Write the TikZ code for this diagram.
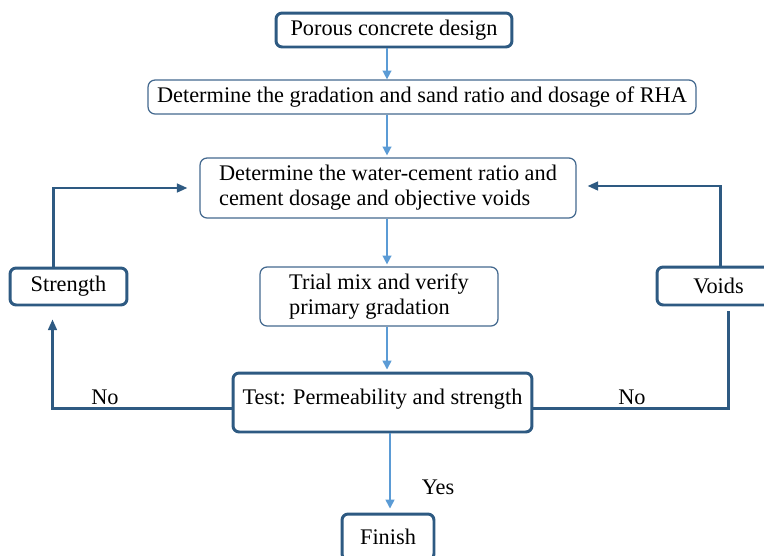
\documentclass[tikz,border=0pt]{standalone}
\usepackage{fontspec}
\setmainfont{Liberation Serif}
\usetikzlibrary{calc}
\usetikzlibrary{arrows.meta}

\definecolor{boxblue}{HTML}{2E5A82}
\definecolor{thinblue}{HTML}{44698F}
\definecolor{arrowblue}{HTML}{5B9BD5}

\tikzset{
    thickbox/.style={draw=boxblue, line width=1.7pt, rounded corners=3.5pt, fill=white,
        font=\fontsize{12.7}{14.2}\selectfont, inner sep=2pt},
    thinbox/.style={draw=thinblue, line width=0.7pt, rounded corners=4pt, fill=white,
        font=\fontsize{12.7}{14.2}\selectfont, inner sep=2pt, align=left},
    flowarrow/.style={draw=arrowblue, line width=0.85pt, -{Triangle[length=5pt,width=5pt]}},
    looparrow/.style={draw=boxblue, line width=1.2pt, -{Triangle[length=6pt,width=5pt]}},
    loopline/.style={draw=boxblue, line width=1.2pt},
    answer/.style={font=\fontsize{12.7}{14.2}\selectfont}
}

\begin{document}
\begin{tikzpicture}[x=0.02cm, y=-0.02cm]
    \useasboundingbox (0,0) rectangle (764,555);

    % main column
    \node[thickbox, minimum width=4.72cm, minimum height=0.68cm] (porous) at (394,30) {Porous concrete design};
    \node[thinbox, minimum width=10.96cm, minimum height=0.68cm, align=center] (gradation) at (422,97)
        {Determine the gradation and sand ratio and dosage of RHA};
    \node[thinbox, minimum width=7.52cm, minimum height=1.2cm] (wcratio) at (388,188)
        {Determine the water-cement ratio and\\cement dosage and objective voids};
    \node[thinbox, minimum width=4.76cm, minimum height=1.18cm] (trialmix) at (379,296.5)
        {Trial mix and verify\\primary gradation};
    \node[thickbox, minimum width=5.98cm, minimum height=1.18cm, text depth=6pt] (test) at (382.5,402.5)
        {Test: Permeability and strength};
    \node[thickbox, minimum width=1.84cm, minimum height=0.92cm] (finish) at (388,537) {Finish};

    % side boxes
    \node[thickbox, minimum width=2.34cm, minimum height=0.74cm] (strength) at (68.5,286.5) {Strength\hspace{10pt}};
    \node[thickbox, minimum width=2.46cm, minimum height=0.76cm] (voids) at (718.5,286) {Voids};

    % answers
    \node[answer] (noleft) at (105,397) {No};
    \node[answer] (noright) at (632,397) {No};
    \node[answer] (yes) at (438,487) {Yes};

    % downward flow
    \coordinate (axis) at (387,0);
    \draw[flowarrow] (porous.south -| axis) -- (gradation.north -| axis);
    \draw[flowarrow] (gradation.south -| axis) -- ($(wcratio.north -| axis)+(0,-2)$);
    \draw[flowarrow] (wcratio.south -| axis) -- ($(trialmix.north -| axis)+(0,-2)$);
    \draw[flowarrow] (trialmix.south -| axis) -- ($(test.north -| axis)+(0,-2)$);
    \draw[flowarrow] ($(test.south -| axis)+(3,0)$) -- ($(finish.north -| axis)+(3,-4)$);

    % strength loop
    \draw[looparrow] ($(test.west)+(0,6)$) -| ($(strength.south)+(-16,13)$);
    \draw[looparrow] ($(strength.north)+(-15,0)$) |- ($(wcratio.west)+(-12,0)$);

    % voids loop
    \draw[loopline] ($(voids.south)+(10,5)$) |- ($(test.east)+(0,6)$);
    \draw[looparrow] ($(voids.north)+(2,0)$) |- ($(wcratio.east)+(11,-2)$);

\end{tikzpicture}
\end{document}
